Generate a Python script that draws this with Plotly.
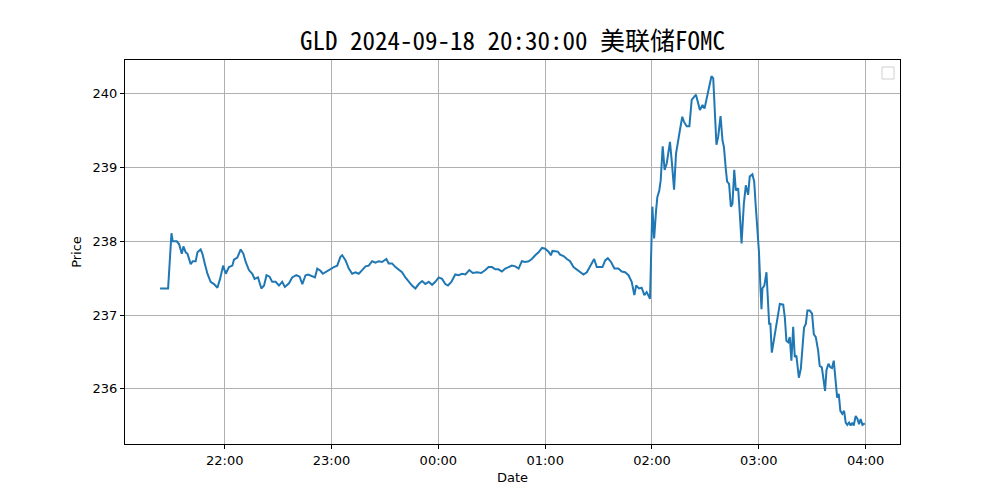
import pandas as pd
import plotly.graph_objects as go

# minutes after 2024-09-18 21:00 and GLD price
minutes = [
    23.7, 28.2, 30.1, 30.8, 33.1, 34.4, 35.9, 36.8, 38.1, 39.1, 40.9, 42.1, 43.7, 44.7, 46.5, 47.5,
    48.8, 50.3, 52.1, 54.0, 55.9, 57.4, 59.1, 60.6, 62.4, 64.3, 65.2, 67.1, 69.0, 70.5, 71.8, 73.6,
    75.5, 76.8, 78.7, 80.6, 82.1, 83.5, 85.2, 86.7,
    88.6, 90.5, 92.3, 93.8, 96.1, 97.9, 100.2, 102.1, 103.6, 105.4, 106.9, 109.2, 110.7, 112.0,
    113.8, 115.1, 117.6, 119.4, 121.3, 123.2, 125.0, 126.0, 127.9, 129.7, 131.6, 133.5, 135.3,
    137.2, 139.1, 140.9, 142.8, 144.7, 146.5, 148.4, 150.8, 152.1, 154.0,
    155.9, 157.8, 159.6, 161.5, 163.4, 165.2, 167.1, 169.0, 170.9, 172.7, 174.6, 176.5, 178.3,
    180.2, 182.1, 183.9, 185.4, 187.3, 189.5, 191.4, 193.3, 195.2, 197.4, 199.3, 201.7, 204.1,
    206.4, 208.2, 210.1, 212.0, 213.8, 215.7, 217.6, 219.5, 221.3,
    223.2, 225.1, 226.9, 228.8, 230.7, 232.5, 234.4, 236.3, 238.2, 240.0, 241.9, 243.2, 244.1,
    245.6, 247.1, 248.4, 250.3, 252.2, 254.0, 255.9, 257.8, 259.7, 261.5, 263.4, 265.3, 267.5,
    269.0, 270.9, 272.2, 273.7, 275.2, 277.0, 278.9, 281.1, 283.0, 284.9, 286.8, 288.6, 290.1,
    291.1, 292.7, 294.2, 295.7, 297.0, 298.9,
    300.2, 301.2, 302.3, 303.0, 304.1, 304.9, 306.0, 307.1, 308.3, 309.2, 310.1, 311.2, 312.4,
    313.5, 314.6, 315.7, 317.0, 318.0, 319.5, 321.0, 322.3, 323.6, 324.7,
    326.9, 328.4, 329.5, 330.6, 331.6, 332.5, 333.4, 334.4, 335.3, 336.2, 337.2, 338.5, 339.6,
    340.4, 341.5, 342.2, 343.3, 344.3, 345.2, 346.2, 347.1, 348.4, 349.3, 350.3, 351.6, 352.7,
    354.0, 354.9, 356.4, 357.4, 358.3, 359.1,
    360.1, 360.9, 361.5, 362.0, 363.1, 364.3, 365.0, 365.8, 366.5, 367.3, 368.4, 369.9,
    371.8, 373.7, 374.6, 375.5, 376.5, 377.4, 378.3, 379.3, 380.2, 381.1, 382.5, 383.6, 384.5,
    385.4, 386.4, 387.3, 388.6, 389.9, 390.9, 392.0, 393.3, 394.2, 395.4, 396.3, 397.2, 398.0,
    399.1, 400.2, 401.1, 402.1, 403.2, 404.0, 404.9, 405.8, 406.9, 407.9, 408.8, 409.7, 410.7,
    411.6, 412.5, 413.3, 414.4, 415.4, 416.3, 417.2, 418.2, 419.5,
]
prices = [
    237.36, 237.36, 238.11, 238.00, 238.00, 237.96, 237.83, 237.93, 237.85, 237.83, 237.69, 237.73,
    237.73, 237.85, 237.89, 237.83, 237.70, 237.56, 237.45, 237.42, 237.37, 237.49, 237.67, 237.56,
    237.65, 237.67, 237.75, 237.78, 237.89, 237.83, 237.72, 237.61, 237.56, 237.49, 237.51, 237.36,
    237.40, 237.54, 237.52, 237.45,
    237.45, 237.40, 237.45, 237.38, 237.43, 237.51, 237.54, 237.52, 237.42, 237.54, 237.55, 237.52,
    237.51, 237.63, 237.60, 237.56, 237.60, 237.63, 237.65, 237.67, 237.79, 237.81, 237.74, 237.63,
    237.56, 237.58, 237.56, 237.61, 237.66, 237.67, 237.73, 237.71, 237.73, 237.72, 237.76, 237.70,
    237.70,
    237.65, 237.61, 237.58, 237.51, 237.45, 237.40, 237.36, 237.42, 237.46, 237.42, 237.45, 237.41,
    237.45, 237.51, 237.49, 237.42, 237.40, 237.45, 237.55, 237.54, 237.56, 237.55, 237.61, 237.57,
    237.58, 237.57, 237.61, 237.65, 237.65, 237.62, 237.62, 237.59, 237.63, 237.65, 237.67,
    237.66, 237.63, 237.73, 237.72, 237.73, 237.76, 237.81, 237.85, 237.91, 237.90, 237.86, 237.81,
    237.87, 237.86, 237.86, 237.82, 237.80, 237.76, 237.73, 237.65, 237.62, 237.58, 237.55, 237.58,
    237.67, 237.76, 237.65, 237.65, 237.65, 237.74, 237.77, 237.72, 237.63, 237.63, 237.59, 237.58,
    237.54, 237.45, 237.27, 237.40, 237.36, 237.37, 237.27, 237.31, 237.22,
    238.47, 238.04, 238.42, 238.60, 238.69, 238.83, 239.29, 238.97, 239.06, 239.19, 239.35, 239.06,
    238.70, 239.19, 239.33, 239.51, 239.69, 239.62, 239.56, 239.56, 239.92, 239.96, 239.99,
    239.78, 239.85, 239.80, 239.92, 240.01, 240.15, 240.24, 240.21, 239.74, 239.31, 239.42, 239.70,
    239.37, 239.28, 238.97, 238.81, 238.78, 238.47, 238.51, 238.97, 238.69, 238.72, 238.38, 237.97,
    238.51, 238.76, 238.63, 238.88, 238.91, 238.81, 238.47, 238.20,
    237.85, 237.38, 237.08, 237.36, 237.40, 237.58, 237.20, 236.88, 236.88, 236.49, 236.65, 236.88,
    237.15, 237.14, 236.97, 236.65, 236.63, 236.70, 236.38, 236.84, 236.43, 236.45, 236.15, 236.27,
    236.56, 236.83, 236.88, 237.06, 237.06, 237.02, 236.74, 236.70, 236.52, 236.31, 236.29, 236.11,
    235.97, 236.25, 236.34, 236.29, 236.28, 236.38, 236.11, 235.88, 235.93, 235.70, 235.66, 235.70,
    235.54, 235.51, 235.54, 235.50, 235.54, 235.50, 235.63, 235.59, 235.52, 235.59, 235.51, 235.53,
]

title_text = "GLD 2024-09-18 20:30:00 美联储FOMC"
base = pd.Timestamp("2024-09-18 21:00:00")
times = base + pd.to_timedelta(minutes, unit="min")

fig = go.Figure()
fig.add_trace(go.Scatter(x=times, y=prices, mode="lines",
                         line=dict(color="#1f77b4", width=2), showlegend=False))

x_lo = base + pd.to_timedelta(4.0, unit="min")
x_hi = base + pd.to_timedelta(439.3, unit="min")

axis_common = dict(
    showline=True, linecolor="black", linewidth=1, mirror=True,
    showgrid=True, gridcolor="#b0b0b0", gridwidth=1,
    ticks="outside", ticklen=4, tickcolor="black", tickwidth=1,
    zeroline=False,
    tickfont=dict(family="DejaVu Sans", size=13, color="black"),
)

fig.update_layout(
    width=1000, height=500,
    margin=dict(l=125, r=100, t=60, b=56),
    paper_bgcolor="white", plot_bgcolor="white",
    title=dict(text=title_text, x=0.5125, xanchor="center", y=0.918, yanchor="middle",
               font=dict(family="Noto Sans Mono CJK SC, DejaVu Sans Mono, Noto Sans CJK SC",
                         size=25, color="black")),
    xaxis=dict(range=[x_lo, x_hi], tickformat="%H:%M", dtick=3600000,
               tick0="2024-09-18 22:00:00",
               title=dict(text="Date", standoff=6,
                          font=dict(family="DejaVu Sans", size=13, color="black")),
               **axis_common),
    yaxis=dict(range=[235.25, 240.46], dtick=1,
               title=dict(text="Price", standoff=8,
                          font=dict(family="DejaVu Sans", size=13, color="black")),
               **axis_common),
    shapes=[dict(type="rect", xref="paper", yref="paper",
                 xsizemode="pixel", ysizemode="pixel", xanchor=1, yanchor=1,
                 x0=-18, x1=-6, y0=-7, y1=-19,
                 line=dict(color="#d0d0d0", width=1), fillcolor="rgba(255,255,255,0.8)")],
)

fig.write_html("out.html")
